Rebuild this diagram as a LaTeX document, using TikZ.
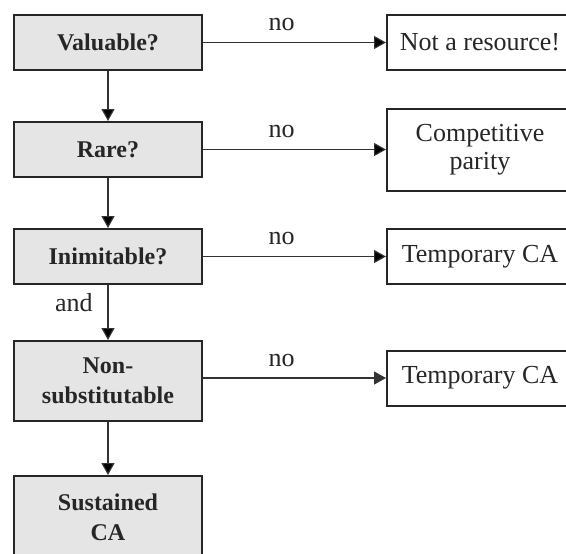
\documentclass[tikz,border=0pt]{standalone}
\usepackage{fontspec}
\setmainfont{Liberation Serif}
\usepackage{tikz}
\usetikzlibrary{positioning,arrows.meta}

\tikzset{
	test/.style={draw=black!85, line width=1pt, fill=black!10, text=black!85,
		minimum width=94pt, minimum height=27.5pt, align=center,
		font=\fontsize{12}{15}\selectfont\bfseries},
	outcome/.style={draw=black!85, line width=1pt, text=black!85,
		minimum width=93pt, minimum height=27.5pt, align=center,
		font=\fontsize{13}{14}\selectfont},
	flow/.style={-{Triangle[length=6pt,width=6.5pt]}, line width=0.6pt, draw=black!80},
}

\begin{document}
\begin{tikzpicture}[font=\fontsize{13}{15}\selectfont, text=black!85]
	\useasboundingbox (-54pt,21.25pt) rectangle (229pt,-255.25pt);

	\node[test] (valuable) {Valuable?};
	\node[test, below=25pt of valuable] (rare) {Rare?};
	\node[test, below=25pt of rare] (inimitable) {Inimitable?};
	\node[test, below=27.5pt of inimitable, minimum height=40pt] (nonsub) {Non-\\substitutable};
	\node[test, below=26.5pt of nonsub, minimum height=41pt] (sustained) {Sustained\\CA};

	\node[outcome, right=91.5pt of valuable] (notres) {Not a resource!};
	\node[outcome, right=91.5pt of rare, minimum height=41pt] (parity) {Competitive\\parity};
	\node[outcome, right=91.5pt of inimitable] (tempca) {Temporary CA};
	\node[outcome, right=91.5pt of nonsub, yshift=1.5pt] (tempcasub) {Temporary CA};

	\path[flow] (valuable) edge (rare);
	\path[flow] (rare) edge (inimitable);
	\path[flow] (inimitable) edge node[left=4pt, pos=0.32]{and} (nonsub);
	\path[flow] (nonsub) edge (sustained);

	\path[flow] (valuable) edge node[above=2pt, pos=0.43]{no} (notres);
	\path[flow] (rare) edge node[above=2pt, pos=0.43]{no} (parity);
	\path[flow] (inimitable) edge node[above=2pt, pos=0.43]{no} (tempca);
	\draw[flow] (nonsub.east |- tempcasub.west) -- node[above=2pt, pos=0.43]{no} (tempcasub.west);
\end{tikzpicture}
\end{document}
